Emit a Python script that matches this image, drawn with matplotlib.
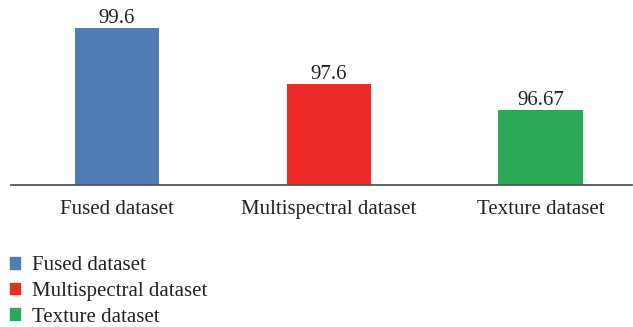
import matplotlib.pyplot as plt
from matplotlib.patches import Patch

CATEGORIES = ["Fused dataset", "Multispectral dataset", "Texture dataset"]
VALUES = [99.6, 97.6, 96.67]
VALUE_LABELS = ["99.6", "97.6", "96.67"]
COLORS = ["#4F7DB3", "#EC2B29", "#2CA957"]

plt.rcParams["font.family"] = ["Liberation Serif", "DejaVu Serif"]

W, H = 633, 327
fig = plt.figure(figsize=(W / 100, H / 100), dpi=100)

# axes placed in pixel coords of the reference
left, right, base, top = 11, 632, 185, 8.6
ax = fig.add_axes([left / W, 1 - base / H, (right - left) / W, (base - top) / H])

x = list(range(len(CATEGORIES)))
bars = ax.bar(x, VALUES, width=0.4, color=COLORS, bottom=0)
ax.set_ylim(94, 100.3)
ax.set_xlim(-0.5, 2.43)

for rect, lab in zip(bars, VALUE_LABELS):
    ax.annotate(lab, (rect.get_x() + rect.get_width() / 2, rect.get_height()),
                xytext=(0, 0), textcoords="offset points",
                ha="center", va="bottom", fontsize=15, color="#222222")

for side in ["top", "right", "left"]:
    ax.spines[side].set_visible(False)
ax.spines["bottom"].set_color("#555555")
ax.spines["bottom"].set_linewidth(1.3)
ax.set_yticks([])
ax.set_xticks(x)
ax.set_xticklabels(CATEGORIES, fontsize=15, color="#222222")
ax.tick_params(axis="x", length=0, pad=11)

handles = [Patch(color=c, label=n) for c, n in zip(COLORS, CATEGORIES)]
fig.legend(handles=handles, loc="upper left", bbox_to_anchor=(10 / W, 1 - 256 / H),
           frameon=False, fontsize=15, handlelength=0.5, handleheight=0.5,
           handletextpad=0.55, labelspacing=0.33, borderaxespad=0, borderpad=0,
           labelcolor="#222222")

fig.savefig("out.png", dpi=100)
